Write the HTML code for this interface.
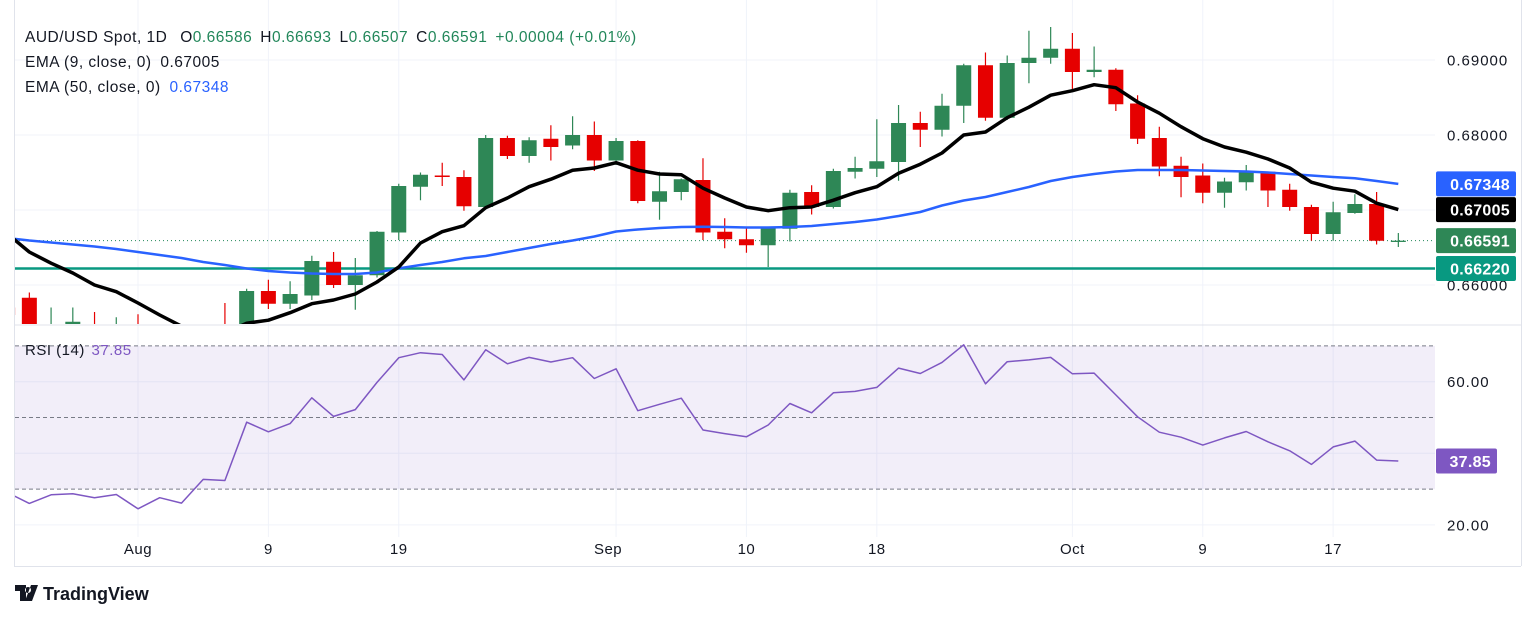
<!DOCTYPE html>
<html><head><meta charset="utf-8"><style>
html,body{margin:0;padding:0;background:#fff;}
svg{display:block;font-family:"Liberation Sans",sans-serif;}
</style></head><body>
<svg id="chart" width="1536" height="618" viewBox="0 0 1536 618" xmlns="http://www.w3.org/2000/svg">
<defs>
<clipPath id="pc"><rect x="15" y="0" width="1420" height="324"/></clipPath>
<clipPath id="rc"><rect x="15" y="326" width="1420" height="210"/></clipPath>
</defs>
<g id="grid"></g>
<g id="rsiBand"></g>
<g id="price" clip-path="url(#pc)"></g>
<g id="rsi" clip-path="url(#rc)"></g>
<g id="axes"></g>
<line x1="15" y1="325" x2="1521" y2="325" stroke="#e0e3eb" stroke-width="1"/>
<line x1="1521.5" y1="0" x2="1521.5" y2="566" stroke="#e0e3eb"/>
<line x1="14.5" y1="0" x2="14.5" y2="566" stroke="#e0e3eb"/>
<line x1="14" y1="566.5" x2="1521" y2="566.5" stroke="#e0e3eb"/>
<g font-size="15.5" letter-spacing="0.5" fill="#131722">
<text x="25" y="42">AUD/USD Spot, 1D <tspan dx="8">O</tspan><tspan fill="#22875a">0.66586</tspan><tspan dx="8">H</tspan><tspan fill="#22875a">0.66693</tspan><tspan dx="8">L</tspan><tspan fill="#22875a">0.66507</tspan><tspan dx="8">C</tspan><tspan fill="#22875a">0.66591</tspan><tspan dx="8" fill="#22875a">+0.00004 (+0.01%)</tspan></text>
<text x="25" y="67">EMA (9, close, 0) <tspan dx="4">0.67005</tspan></text>
<text x="25" y="92">EMA (50, close, 0) <tspan dx="4" fill="#2962ff">0.67348</tspan></text>
<text x="25" y="355" font-size="15">RSI (14) <tspan dx="2" fill="#7e57c2">37.85</tspan></text>
</g>
<g>
<path d="M15 585h11v16h-6v-10h-5z M28 587a3 3 0 1 0 0.01 0z M31 585h7l-6 16h-7z" fill="#131722"/>
<text x="43" y="600" font-size="18" font-weight="bold" fill="#131722">TradingView</text>
</g>
<script>
const startIdx = -6;
const openV = [.6570,.6583,.6540,.6535,.6545,.6525,.6540,.6510,.6520,.6490,.6510,.6500,.6592,.6575,.6586,.6631,.6600,.6613,.6670,.6731,.6746,.6744,.6704,.6796,.6772,.6795,.6786,.6800,.6766,.6792,.6711,.6724,.6740,.6671,.6661,.6653,.6675,.6724,.6704,.6751,.6755,.6764,.6816,.6807,.6839,.6893,.6823,.6896,.6903,.6915,.6884,.6887,.6842,.6796,.6759,.6746,.6723,.6737,.6751,.6727,.6704,.6668,.6696,.6708,.66586];
const highV = [.6580,.6590,.6570,.6570,.6564,.6557,.6561,.6540,.6540,.6540,.6576,.6595,.6607,.6605,.6639,.6644,.6636,.6672,.6735,.6750,.6763,.6753,.6800,.6799,.6797,.6813,.6825,.6818,.6796,.6793,.6751,.6742,.6769,.6689,.6677,.6677,.6727,.6733,.6755,.6771,.6821,.6840,.6831,.6855,.6895,.6910,.6906,.6939,.6944,.6936,.6918,.6889,.6853,.6811,.6771,.6762,.6743,.6760,.6751,.6735,.6707,.6711,.6721,.6724,.66693];
const lowV = [.6545,.6530,.6530,.6520,.6515,.6510,.6500,.6480,.6350,.6480,.6480,.6490,.6568,.6568,.6580,.6596,.6567,.6610,.6660,.6713,.6732,.6699,.6703,.6768,.6763,.6766,.6781,.6752,.6760,.6709,.6687,.6713,.6660,.6649,.6643,.6624,.6658,.6694,.6702,.6742,.6744,.6739,.6784,.6798,.6816,.6819,.6820,.6869,.6895,.6858,.6877,.6832,.6788,.6745,.6717,.6709,.6703,.6726,.6704,.6699,.6659,.6659,.6695,.6654,.66507];
const closeV = [.6560,.6545,.6545,.6551,.6530,.6545,.6510,.6530,.6490,.6500,.6500,.6592,.6575,.6588,.6632,.6600,.6613,.6671,.6732,.6747,.6744,.6705,.6796,.6772,.6793,.6784,.6800,.6766,.6792,.6712,.6725,.6741,.6670,.6661,.6653,.6676,.6723,.6704,.6752,.6756,.6765,.6816,.6807,.6839,.6893,.6823,.6896,.6903,.6915,.6884,.6887,.6841,.6795,.6758,.6744,.6723,.6738,.6751,.6726,.6704,.6668,.6697,.6708,.6659,.66591];
const ema9 = [.6668,.6644,.6629,.6616,.6600,.6591,.6576,.6560,.6545,.6533,.6536,.6549,.6553,.6563,.6575,.6580,.6588,.6604,.6624,.6656,.6671,.6679,.6703,.6716,.6731,.6741,.6753,.6756,.6763,.6753,.6748,.6747,.6729,.6716,.6704,.6699,.6703,.6704,.6713,.6723,.6731,.6749,.6761,.6776,.6800,.6804,.6823,.6837,.6853,.6859,.6867,.6863,.6844,.6829,.6811,.6795,.6784,.6777,.6768,.6756,.6737,.6729,.6725,.6709,.67005];
const ema50 = [.66627,.66593,.66567,.6654,.66513,.6648,.6644,.664,.6636,.66307,.66267,.6622,.66187,.66167,.66153,.66147,.66147,.66167,.66223,.66267,.66307,.66356,.66387,.6644,.66493,.66547,.66593,.66647,.66713,.6674,.6676,.66773,.66777,.66773,.66767,.66767,.66773,.66787,.66813,.6684,.66873,.6692,.66973,.6706,.67127,.67173,.6724,.67307,.67387,.6744,.6748,.67513,.67533,.67533,.67533,.67527,.6752,.67513,.675,.6748,.6746,.6744,.67423,.67387,.67348];
const rsiV = [29.0,26.0,28.4,28.7,27.6,28.5,24.5,27.6,26.1,32.7,32.4,48.7,46.0,48.3,55.5,50.3,52.2,59.8,66.7,68.1,67.6,60.5,68.9,65.0,66.8,65.5,66.7,60.9,63.6,51.9,53.7,55.4,46.5,45.5,44.6,47.9,53.9,51.3,56.9,57.3,58.4,63.8,62.3,65.4,70.3,59.4,65.6,66.1,66.8,62.2,62.4,56.3,50.2,45.9,44.5,42.3,44.3,46.1,43.2,40.7,36.9,41.8,43.4,38.1,37.85];
const xTickIdx = [0,6,12,22,28,34,43,49,55];
const xTickLabels = ["Aug","9","19","Sep","10","18","Oct","9","17"];
const priceTicks = [0.69,0.68,0.67,0.66];
const priceTickLabels = ["0.69000","0.68000","0.67000","0.66000"];
const rsiTicks = [60,40,20];
const rsiTickLabels = ["60.00","40.00","20.00"];
const rsiLevels = [70,50,30];
const supportLevel = 0.6622;
const lastClose = 0.66591;
const lastEma9 = 0.67005;
const lastEma50 = 0.67348;
const lastRsi = 37.85;

const NS = "http://www.w3.org/2000/svg";
const xOf = i => 138 + 21.73 * i;
const yP = p => 60 + (0.69 - p) * 7500;
const yR = r => 381.7 + (60 - r) * 3.58;
function mk(tag, attrs, parent){ const e=document.createElementNS(NS,tag); for(const k in attrs) e.setAttribute(k,attrs[k]); parent.appendChild(e); return e; }
const G = document.getElementById('grid'), P = document.getElementById('price'), R = document.getElementById('rsi'), A = document.getElementById('axes'), B = document.getElementById('rsiBand');

xTickIdx.forEach((ti,k)=>{
  const x = xOf(ti);
  const gl = mk('line',{x1:x,x2:x,y1:0,y2:537,stroke:'#f0f3fa','stroke-width':1},G);
  
  
  const lx = xTickLabels[k] === 'Sep' ? x - 8 : x;
  const t = mk('text',{x:lx,y:554,'text-anchor':'middle','font-size':15,'letter-spacing':0.5,fill:'#131722'},A);
  t.textContent = xTickLabels[k];
  
  
});
priceTicks.forEach((p,k)=>{
  const y = yP(p);
  const gl = mk('line',{x1:15,x2:1435,y1:y,y2:y,stroke:'#f0f3fa'},G);
  
  
  const t = mk('text',{x:1447,y:y+5.5,'font-size':15,'letter-spacing':1,fill:'#131722'},A);
  t.textContent = priceTickLabels[k];
  
  
});
rsiTicks.forEach((r,k)=>{
  const y = yR(r);
  const gl = mk('line',{x1:15,x2:1435,y1:y,y2:y,stroke:'#f0f3fa'},G);
  
  
  const t = mk('text',{x:1447,y:y+5.5,'font-size':15,'letter-spacing':1,fill:'#131722'},A);
  t.textContent = rsiTickLabels[k];
  
  
});
const band = mk('rect',{x:15,y:yR(rsiLevels[0]),width:1420,height:yR(rsiLevels[2])-yR(rsiLevels[0]),fill:'#7e57c2','fill-opacity':0.1},B);


rsiLevels.forEach(l=>{
  const ln = mk('line',{x1:15,x2:1435,y1:yR(l),y2:yR(l),stroke:'#787b86','stroke-dasharray':'4 3','stroke-width':1},B);
  
  
});

const sup = mk('line',{x1:15,x2:1435,y1:yP(supportLevel),y2:yP(supportLevel),stroke:'#089981','stroke-width':2.5},P);


const cl = mk('line',{x1:15,x2:1435,y1:yP(lastClose),y2:yP(lastClose),stroke:'#22875a','stroke-dasharray':'1 3','stroke-width':1},P);



openV.forEach((o,k)=>{
  const i = startIdx + k, x = xOf(i);
  const c = closeV[k], up = c >= o;
  const col = up ? '#2e8756' : '#e60000';
  const g = mk('g',{},P);
  
  
  mk('line',{x1:x,x2:x,y1:yP(highV[k]),y2:yP(lowV[k]),stroke:col,'stroke-width':1.2},g);
  const top = yP(Math.max(o,c)), bot = yP(Math.min(o,c));
  mk('rect',{x:x-7.5,y:top,width:15,height:Math.max(1.3,bot-top),fill:col},g);
});
function linePath(vals, yf){ return vals.map((v,k)=>(k?'L':'M')+xOf(startIdx+k).toFixed(1)+' '+yf(v).toFixed(1)).join(' '); }
const e50 = mk('path',{d:linePath(ema50,yP),fill:'none',stroke:'#2962ff','stroke-width':2.5,'stroke-linejoin':'round'},P);


const e9 = mk('path',{d:linePath(ema9,yP),fill:'none',stroke:'#000','stroke-width':3.5,'stroke-linejoin':'round'},P);


const rl = mk('path',{d:linePath(rsiV,yR),fill:'none',stroke:'#7e57c2','stroke-width':1.5,'stroke-linejoin':'round'},R);



function badge(val, txt, bg, yf, w, name){
  const y = yf(val);
  const g = mk('g',{},A);
  
  
  mk('rect',{x:1436,y:y-12.5,width:w,height:25,rx:2,fill:bg},g);
  const t = mk('text',{x:1436+w-6,y:y+6,'text-anchor':'end','font-size':16,'font-weight':'bold','letter-spacing':0.3,fill:'#fff'},g);
  t.textContent = txt;
}
badge(lastEma50, lastEma50.toFixed(5), '#2962ff', yP, 80, 'ema50-price-label');
badge(lastEma9, lastEma9.toFixed(5), '#000000', yP, 80, 'ema9-price-label');
badge(lastClose, lastClose.toFixed(5), '#2e8756', yP, 80, 'last-price-label');
badge(supportLevel, supportLevel.toFixed(5), '#089981', yP, 80, 'support-price-label');
badge(lastRsi, lastRsi.toFixed(2), '#7e57c2', yR, 61, 'rsi-value-label');
</script>
</svg>
</body></html>
